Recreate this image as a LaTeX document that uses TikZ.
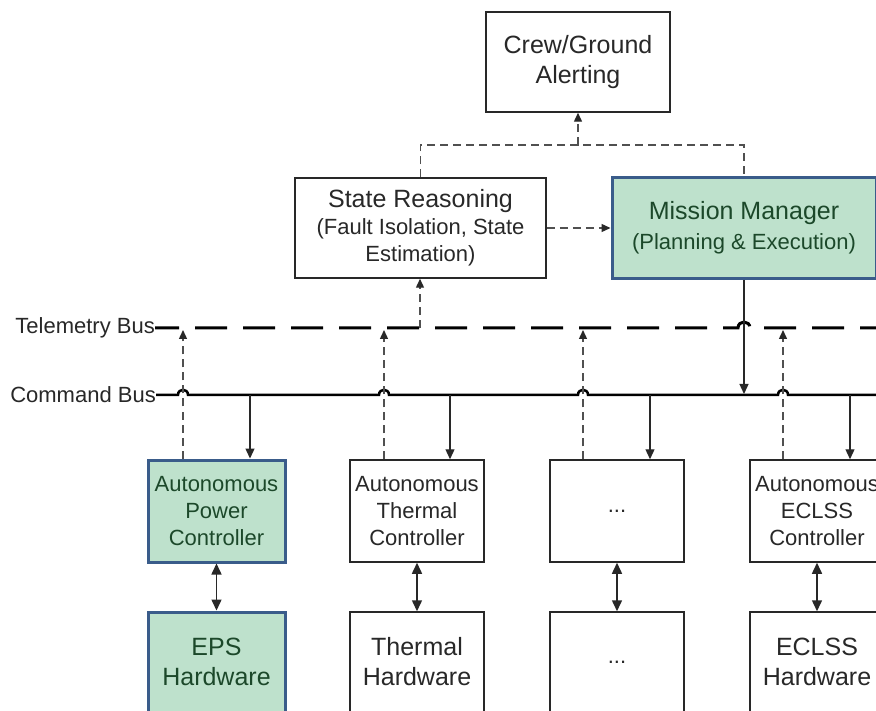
\documentclass[tikz,border=0pt]{standalone}
\usepackage{fontspec}
\setmainfont{Liberation Sans}
\usetikzlibrary{arrows.meta}
\definecolor{gfill}{RGB}{190,225,204}
\definecolor{gborder}{RGB}{58,92,138}
\definecolor{gtext}{RGB}{28,72,42}
\definecolor{ink}{RGB}{40,40,40}
\definecolor{dashgray}{RGB}{80,80,80}
\begin{document}
\begin{tikzpicture}[x=1pt,y=-1pt,
  box/.style={draw=ink, line width=1.5pt, fill=white, text=ink, align=center, inner sep=0pt,
    minimum width=134pt, minimum height=102pt, font=\fontsize{22}{27}\selectfont},
  gbox/.style={box, draw=gborder, line width=3pt, fill=gfill, text=gtext},
  hw/.style={font=\fontsize{25}{30}\selectfont, minimum height=100pt},
  buslabel/.style={anchor=east, inner sep=0pt, text=ink, font=\fontsize{22}{26}\selectfont},
  dashline/.style={draw=dashgray, line width=1.4pt, dash pattern=on 8pt off 5pt},
  dasharrow/.style={dashline, -{Triangle[length=9pt,width=8pt,color=ink]}},
  cmdarrow/.style={draw=ink, line width=1.3pt, -{Triangle[length=10pt,width=9pt]}},
  biarrow/.style={draw=ink, line width=1.5pt, {Triangle[length=11pt,width=10pt]}-{Triangle[length=11pt,width=10pt]}},
  tbus/.style={draw=black, line width=3pt, dash pattern=on 32pt off 16pt, dash phase=8pt},
  cbus/.style={draw=black, line width=2.5pt}
]
\useasboundingbox (0,0) rectangle (876,711);
\clip (0,0) rectangle (876,711);
\fill[white] (0,0) rectangle (876,711);

% top boxes
\node[box, minimum width=184pt, minimum height=100pt, font=\fontsize{25}{30}\selectfont] (crew) at (578,62) {Crew/Ground\\Alerting};
\node[box, minimum width=251pt, minimum height=100pt] (sr) at (420.5,228)
  {{\fontsize{25}{28}\selectfont State Reasoning}\\(Fault Isolation, State\\Estimation)};
\node[gbox, minimum width=264pt, minimum height=101pt, font=\fontsize{22}{30}\selectfont] (mm) at (744,228)
  {{\fontsize{25}{30}\selectfont Mission Manager}\\(Planning \& Execution)};

% controllers
\node[gbox, minimum width=137pt] (apc) at (216.5,511) {Autonomous\\Power\\Controller};
\node[box] (atc) at (417,511) {Autonomous\\Thermal\\Controller};
\node[box] (adc) at (617,511) {...};
\node[box] (aec) at (817,511) {Autonomous\\ECLSS\\Controller};

% hardware
\node[gbox, hw, minimum width=137pt] (eps) at (216.5,662) {EPS\\Hardware};
\node[box, hw] (thw) at (417,662) {Thermal\\Hardware};
\node[box, hw, font=\fontsize{22}{27}\selectfont] (dhw) at (617,662) {...};
\node[box, hw] (ehw) at (817,662) {ECLSS\\Hardware};

% bus labels
\node[buslabel] (tl) at (155,328) {Telemetry Bus};
\node[buslabel] (cl) at (156,395) {Command Bus};

% bus coordinates
\coordinate (t1) at (183,330);
\coordinate (t2) at (384,330);
\coordinate (t3) at (583,330);
\coordinate (t4) at (783,330);
\coordinate (tsr) at (420,328);
\coordinate (c1) at (250,395);
\coordinate (c2) at (450,395);
\coordinate (c3) at (650,395);
\coordinate (c4) at (850,395);
\coordinate (cmm) at (744,394);
\coordinate (join) at (578,145);

% buses
\draw[tbus] (tl.east) -- (738,328) .. controls (738,320) and (750,320) .. (750,328) -- (880,328);
\draw[cbus] (cl.east) -- (178,395) .. controls (178,388) and (188,388) .. (188,395)
  -- (379,395) .. controls (379,388) and (389,388) .. (389,395)
  -- (578,395) .. controls (578,388) and (588,388) .. (588,395)
  -- (778,395) .. controls (778,388) and (788,388) .. (788,395) -- (880,395);

% top connectors
\draw[dashline] (sr.north) |- (join) -| (mm.north);
\draw[dasharrow] (join) -- (crew.south);
\draw[dasharrow] (sr.east) -- (mm.west);
\draw[dasharrow] (tsr) -- (tsr |- sr.south);
\draw[cmdarrow] (mm.south) -- (cmm);

% telemetry up arrows
\draw[dasharrow] (t1 |- apc.north) -- (t1);
\draw[dasharrow] (t2 |- atc.north) -- (t2);
\draw[dasharrow] (t3 |- adc.north) -- (t3);
\draw[dasharrow] (t4 |- aec.north) -- (t4);

% command down arrows
\draw[cmdarrow] (c1) -- (c1 |- apc.north);
\draw[cmdarrow] (c2) -- (c2 |- atc.north);
\draw[cmdarrow] (c3) -- (c3 |- adc.north);
\draw[cmdarrow] (c4) -- (c4 |- aec.north);

% controller-hardware
\draw[biarrow] (apc) -- (eps);
\draw[biarrow] (atc) -- (thw);
\draw[biarrow] (adc) -- (dhw);
\draw[biarrow] (aec) -- (ehw);
\end{tikzpicture}
\end{document}
